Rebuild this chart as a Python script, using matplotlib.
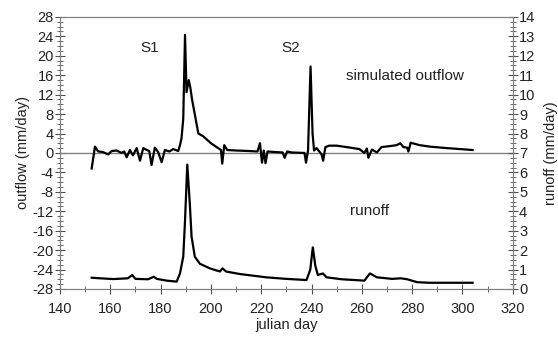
import matplotlib.pyplot as plt
from matplotlib.ticker import MultipleLocator

plt.rcParams['font.family'] = ['Liberation Sans', 'DejaVu Sans']
plt.rcParams['axes.unicode_minus'] = False

# simulated outflow (mm/day), left axis
out_day = [152.6, 153.9, 155.2, 157, 159.2, 160.5, 162.5, 164.5, 165.5, 166.5,
           167.8, 169, 170.5, 171.8, 173.1, 174.5, 175.5, 176.4, 177.7, 179,
           180.4, 181.7, 183.5, 185, 187, 187.7, 188.3, 189, 189.7, 190.3,
           191.2, 191.8, 192.5, 195, 197, 200, 202, 204, 204.5, 205.3,
           206.5, 210, 215, 218.5, 219.5, 220.3, 221, 221.7, 222.5, 225,
           228.5, 229.3, 230.3, 232, 237.2, 237.8, 238.6, 239.6, 240.4, 241,
           242, 244, 244.6, 245.5, 247, 250, 254, 259, 261, 262,
           262.6, 264, 266, 267.8, 271, 273.8, 275.3, 276.5, 278, 278.5,
           279.4, 283, 287, 293.7, 299, 304]
out_val = [-3.2, 1.3, 0.3, 0.2, -0.3, 0.4, 0.5, 0.0, 0.3, -0.9,
           0.6, -0.5, 1.0, -1.6, 1.0, 0.6, 0.4, -2.5, 1.1, 0.2,
           -1.9, 0.6, 0.3, 0.8, 0.4, 1.6, 3.0, 7.0, 24.3, 12.5,
           15.0, 13.5, 11.0, 4.0, 3.4, 2.0, 1.3, 0.6, -2.2, 1.6,
           0.6, 0.5, 0.4, 0.3, 2.0, -2.0, 0.5, -2.1, 0.3, 0.2,
           0.1, -1.0, 0.3, 0.1, 0.0, -2.0, 0.5, 17.8, 4.0, 0.5,
           1.0, -0.3, -1.6, 1.2, 1.5, 1.5, 1.2, 0.8, 0.0, 0.9,
           -1.0, 0.7, 0.1, 1.2, 1.4, 1.6, 2.0, 1.2, 1.1, 0.3,
           2.1, 1.6, 1.3, 1.0, 0.8, 0.6]

# runoff (mm/day), right axis
run_day = [152.6, 156, 161.2, 167, 168.7, 170, 175, 177.3, 178.5, 182.4,
           186.4, 187.7, 189, 189.7, 190.6, 191.6, 192.3, 193.6, 195.6, 199.6,
           203.6, 204.6, 206, 211.5, 222, 230, 238, 239.5, 240.5, 241.5,
           242.5, 244.5, 246, 252, 261, 263.2, 266, 272, 275.5, 278,
           282, 287, 304]
run_val = [0.58, 0.55, 0.51, 0.55, 0.72, 0.52, 0.5, 0.63, 0.52, 0.43,
           0.38, 0.8, 1.66, 3.5, 6.4, 4.4, 2.7, 1.66, 1.3, 1.06,
           0.9, 1.06, 0.9, 0.77, 0.6, 0.52, 0.46, 1.0, 2.14, 1.2,
           0.72, 0.8, 0.6, 0.5, 0.43, 0.8, 0.6, 0.52, 0.55, 0.5,
           0.35, 0.32, 0.32]

fig, ax = plt.subplots(figsize=(5.58, 3.38), dpi=100)
fig.subplots_adjust(left=0.1075, right=0.919, top=0.95, bottom=0.145)
ax2 = ax.twinx()

gray = '#808080'
ax.axhline(0, color=gray, lw=1.0)
ax.plot(out_day, out_val, color='black', lw=1.6)
ax2.plot(run_day, run_val, color='black', lw=1.6)

ax.set_xlim(140, 320)
ax.set_ylim(-28, 28)
ax2.set_ylim(0, 14)
ax.set_xticks(range(140, 321, 20))
ax.xaxis.set_minor_locator(MultipleLocator(10))
ax.set_yticks(range(-28, 29, 4))
ax.yaxis.set_minor_locator(MultipleLocator(1))
ax2.set_yticks(range(0, 15))
ax2.yaxis.set_minor_locator(MultipleLocator(0.25))

for a in (ax, ax2):
    for s in a.spines.values():
        s.set_color(gray)
    a.tick_params(which='both', direction='inout', colors='#505050',
                  labelcolor='#222222', labelsize=10.5)
    a.tick_params(which='major', length=7)
    a.tick_params(which='minor', length=4)
ax.tick_params(axis='x', pad=6)
ax2.tick_params(axis='y', pad=1)
ax.tick_params(axis='y', pad=1)

ax.set_xlabel('julian day', fontsize=10.5, color='#222222', labelpad=1)
ax.set_ylabel('outflow (mm/day)', fontsize=10.5, color='#222222', labelpad=2)
ax2.set_ylabel('runoff (mm/day)', fontsize=10.5, color='#222222',
               rotation=90, labelpad=6)

ax.text(175.8, 21.6, 'S1', fontsize=11, ha='center', va='center', color='#222222')
ax.text(231.8, 21.6, 'S2', fontsize=11, ha='center', va='center', color='#222222')
ax.text(277, 15.9, 'simulated outflow', fontsize=11, ha='center', va='center',
        color='#222222')
ax.text(263.2, -12, 'runoff', fontsize=11, ha='center', va='center',
        color='#222222')

fig.savefig('out.png', dpi=100)
